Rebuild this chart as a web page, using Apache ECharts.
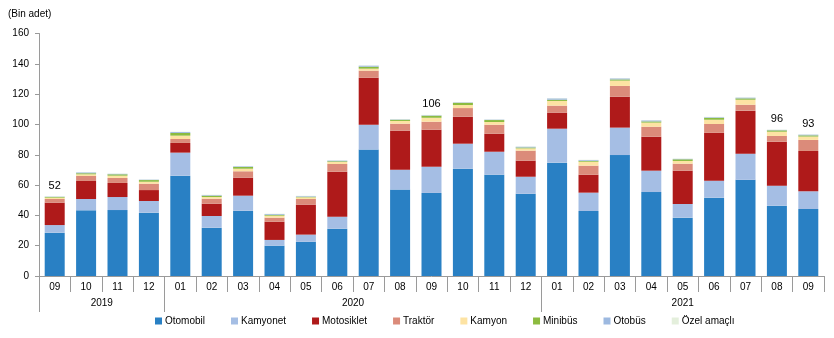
<!DOCTYPE html>
<html>
<head>
<meta charset="utf-8">
<script src="https://cdn.jsdelivr.net/npm/echarts@6/dist/echarts.min.js"></script>
<style>
html,body{margin:0;padding:0;background:#fff;}
#chart{width:834px;height:338px;}
</style>
</head>
<body>
<div id="chart"></div>
<script>
var months = ['09','10','11','12','01','02','03','04','05','06','07','08','09','10','11','12','01','02','03','04','05','06','07','08','09'];
var yearPoints = 51; // half-category grid points for the year row
var yearLabels = {4:'2019', 20:'2020', 41:'2021'};
var yearBoundaries = [0, 8, 32];

var otomobil   = [28.6,43.3,43.5,41.8,66.2,31.9,43.1,20.0,22.6,31.2,83.4,57.0,54.8,70.8,66.8,54.3,74.8,42.9,79.8,55.4,38.5,51.7,63.5,46.4,44.2];
var kamyonet   = [5.0,7.5,8.6,7.7,15.2,7.7,9.9,3.8,4.7,7.9,16.4,13.1,17.3,16.5,15.2,11.2,22.4,12.1,18.1,14.1,9.0,11.2,17.2,13.2,11.7];
var motosiklet = [14.8,11.9,9.3,7.2,6.4,8.1,11.9,12.0,19.8,29.7,31.0,25.8,24.4,17.8,11.9,10.6,10.6,11.8,20.4,22.4,22.0,31.6,28.4,29.0,26.6];
var traktor    = [2.4,3.3,3.3,4.2,2.6,3.3,4.2,2.7,3.7,5.1,4.7,4.6,5.3,5.7,5.9,6.6,4.6,6.0,7.1,6.6,4.6,5.8,3.9,3.8,7.3];
var kamyon     = [0.9,1.1,1.5,1.3,2.2,1.1,1.7,1.3,1.1,1.3,1.3,1.8,2.6,2.0,1.8,1.5,3.1,2.6,3.5,2.7,1.8,2.8,3.3,2.8,2.2];
var minibus    = [0.5,0.7,0.9,1.1,1.8,0.9,1.1,0.6,0.4,0.5,1.3,0.8,1.4,1.5,1.3,0.6,0.8,0.6,0.8,0.8,1.1,1.3,0.9,0.9,0.8];
var otobus     = [0.2,0.6,0.3,0.3,0.6,0.4,0.5,0.5,0.4,0.5,0.7,0.3,0.3,0.3,0.3,0.5,0.9,0.5,0.7,0.7,0.3,0.4,0.5,0.3,0.5];
var ozelAmacli = [0.2,0.2,0.2,0.2,0.2,0.2,0.2,0.2,0.2,0.2,0.2,0.2,0.2,0.2,0.2,0.2,0.2,0.2,0.2,0.2,0.2,0.2,0.2,0.2,0.2];
var totalLabels = ['52','','','','','','','','','','','','106','','','','','','','','','','','96','93'];

var seriesNames = ['Otomobil','Kamyonet','Motosiklet','Traktör','Kamyon','Minibüs','Otobüs','Özel amaçlı'];
var seriesData = [otomobil,kamyonet,motosiklet,traktor,kamyon,minibus,otobus,ozelAmacli];
var colors = ['#2980C4','#A5BEE4','#AF1A1A','#DB8B7A','#FDE3A3','#8CBB3F','#9DB9E0','#E4EFDC'];

var yearAxisData = [];
for (var i = 0; i < yearPoints; i++) yearAxisData.push(yearLabels[i] || '');

var font = 'Liberation Sans, Arial, sans-serif';

var series = seriesNames.map(function(name, idx){
  var s = {
    name: name,
    type: 'bar',
    stack: 'total',
    data: seriesData[idx],
    barWidth: 20,
    itemStyle: {color: colors[idx]},
    emphasis: {disabled: true}
  };
  if (idx === seriesNames.length - 1) {
    s.label = {
      show: true,
      position: 'top',
      distance: 5,
      fontFamily: font,
      fontSize: 11,
      color: '#000',
      formatter: function(p){ return totalLabels[p.dataIndex]; }
    };
  }
  return s;
});

var chart = echarts.init(document.getElementById('chart'), null, {renderer: 'canvas'});
chart.setOption({
  animation: false,
  color: colors,
  title: {
    text: '(Bin adet)',
    left: 3, top: 4,
    textStyle: {fontFamily: font, fontSize: 10, fontWeight: 'normal', color: '#000'}
  },
  grid: {left: 39, right: 10, top: 33.5, bottom: 62, containLabel: false},
  legend: {
    bottom: 7,
    left: 150,
    icon: 'rect',
    itemWidth: 7,
    itemHeight: 7,
    itemGap: 26,
    textStyle: {fontFamily: font, fontSize: 10, color: '#000', padding: [0,0,0,-2]},
    data: seriesNames
  },
  xAxis: [
    {
      type: 'category',
      data: months,
      boundaryGap: true,
      axisLine: {lineStyle: {color: '#9a9a9a', width: 1}},
      axisTick: {show: true, length: 16, interval: 0, lineStyle: {color: '#9a9a9a'}},
      axisLabel: {interval: 0, fontFamily: font, fontSize: 10, color: '#000', margin: 6}
    },
    {
      type: 'category',
      data: yearAxisData,
      position: 'bottom',
      boundaryGap: false,
      axisLine: {show: false},
      axisTick: {
        show: true, length: 36,
        interval: function(index){ return yearBoundaries.indexOf(index) >= 0; },
        lineStyle: {color: '#9a9a9a'}
      },
      axisLabel: {
        interval: function(index){ return !!yearLabels[index]; },
        fontFamily: font, fontSize: 10, color: '#000', margin: 22
      }
    }
  ],
  yAxis: {
    type: 'value',
    min: 0, max: 160, interval: 20,
    axisLine: {show: true, lineStyle: {color: '#9a9a9a'}},
    axisTick: {show: true, length: 4, lineStyle: {color: '#9a9a9a'}},
    splitLine: {show: false},
    axisLabel: {fontFamily: font, fontSize: 10, color: '#000', margin: 10}
  },
  series: series
});
</script>
</body>
</html>
